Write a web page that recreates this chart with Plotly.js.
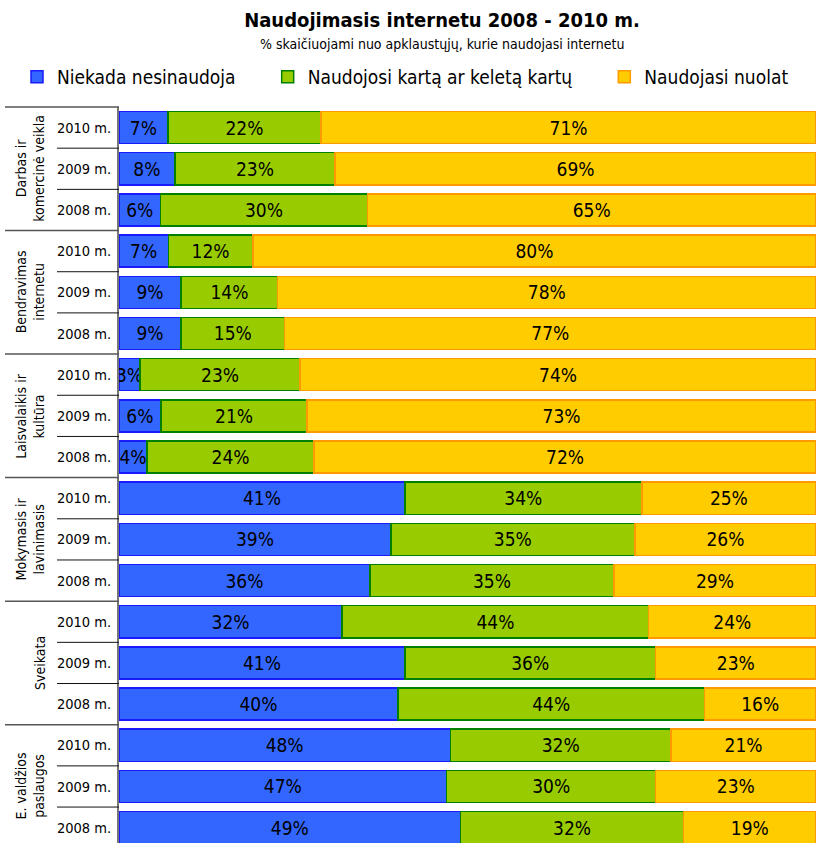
<!DOCTYPE html>
<html>
<head>
<meta charset="utf-8">
<script src="https://cdn.plot.ly/plotly-3.0.1.min.js"></script>
<style>html,body{margin:0;padding:0;background:#fff;}#chart{width:816px;height:843px;}</style>
</head>
<body>
<div id="chart"></div>
<script>
// ---- data ----
var groupLabels = ["Darbas ir<br>komercinė veikla", "Bendravimas<br>internetu", "Laisvalaikis ir<br>kultūra", "Mokymasis ir<br>lavinimasis", "Sveikata", "E. valdžios<br>paslaugos"];
var yearLabels = ["2010 m.", "2009 m.", "2008 m."];
var seriesNames = ["Niekada nesinaudoja", "Naudojosi kartą ar keletą kartų", "Naudojasi nuolat"];
var never     = [7, 8, 6,   7, 9, 9,   3, 6, 4,   41, 39, 36,   32, 41, 40,   48, 47, 49];
var sometimes = [22, 23, 30, 12, 14, 15, 23, 21, 24, 34, 35, 35,  44, 36, 44,   32, 30, 32];
var constant  = [71, 69, 65, 80, 78, 77, 74, 73, 72, 25, 26, 29,  24, 23, 16,   21, 23, 19];

// ---- build ----
var FONT = "'DejaVu Sans Condensed', 'DejaVu Sans', sans-serif";
var W = 816, H = 843, ML = 119, MT = 107;
var plotW = W - ML, plotH = H - MT;
var rowPx = 41.18;
var yMin = -0.5, yMax = -0.5 + plotH / rowPx;

var rows = [], tickText = [];
groupLabels.forEach(function (g, gi) {
  yearLabels.forEach(function (yl, yi) {
    rows.push(gi * yearLabels.length + yi);
    tickText.push(yl);
  });
});

var fills = ["#3366FF", "#99CC00", "#FFCC00"];
var lines = ["#1a1aff", "#008000", "#FF9900"];
var values = [never, sometimes, constant];

function pad(name, n) { var s = name; for (var i = 0; i < n; i++) s += "\u00a0"; return s; }
var padN = [5, 5, 0];

var traces = values.map(function (v, i) {
  return {
    type: "bar",
    orientation: "h",
    name: pad(seriesNames[i], padN[i]),
    x: v,
    y: rows,
    marker: { color: fills[i], line: { color: lines[i], width: 1.5 } },
    text: v.map(function (n) { return n + "%"; }),
    texttemplate: "%{text}",
    textposition: "inside",
    insidetextanchor: "middle",
    textangle: 0,
    constraintext: "none",
    insidetextfont: { family: FONT, size: 19, color: "#000" },
    hoverinfo: "text+name"
  };
});

function px2paperX(px) { return (px - ML) / plotW; }
function py2paperY(py) { return (H - py) / plotH; }
function row2paperY(r) { return (yMax - r) / (yMax - yMin); }

var shapes = [];
var annotations = [];
var nY = yearLabels.length;
groupLabels.forEach(function (g, gi) {
  var top = gi * nY - 0.5;
  shapes.push({ type: "line", xref: "paper", yref: "paper",
    x0: px2paperX(5), x1: px2paperX(119), y0: row2paperY(top), y1: row2paperY(top),
    line: { color: "#555", width: 1.5 } });
  for (var k = 1; k < nY; k++) {
    var b = top + k;
    shapes.push({ type: "line", xref: "paper", yref: "paper",
      x0: px2paperX(57), x1: px2paperX(119), y0: row2paperY(b), y1: row2paperY(b),
      line: { color: "#111", width: 1 } });
  }
  var twoLine = g.indexOf("<br>") >= 0;
  annotations.push({
    xref: "paper", yref: "y", x: px2paperX(twoLine ? 30 : 40), y: gi * nY + (nY - 1) / 2,
    text: g, textangle: -90, showarrow: false, align: "center",
    xanchor: "center", yanchor: "middle",
    font: { family: FONT, size: 14, color: "#000" }
  });
});

annotations.push({
  xref: "paper", yref: "paper", x: px2paperX(442), y: py2paperY(44),
  xanchor: "center", yanchor: "middle", showarrow: false,
  text: "% skaičiuojami nuo apklaustųjų, kurie naudojasi internetu",
  font: { family: FONT, size: 14, color: "#000" }
});

var layout = {
  width: W, height: H,
  margin: { l: ML, r: 0, t: MT, b: 0, pad: 0 },
  paper_bgcolor: "#fff", plot_bgcolor: "#fff",
  barmode: "stack",
  barnorm: "percent",
  bargap: 0.22,
  font: { family: FONT, color: "#000" },
  title: {
    text: "<b>Naudojimasis internetu 2008 - 2010 m.</b>",
    font: { family: FONT, size: 20, color: "#000" },
    xref: "paper", x: px2paperX(442), xanchor: "center",
    yref: "container", y: 1 - 20 / H, yanchor: "middle"
  },
  showlegend: true,
  legend: {
    orientation: "h", x: px2paperX(17), xanchor: "left",
    y: py2paperY(77), yanchor: "middle",
    font: { family: FONT, size: 19, color: "#000" },
    bgcolor: "rgba(0,0,0,0)", traceorder: "normal"
  },
  xaxis: { range: [0, 100], visible: false, fixedrange: true },
  yaxis: {
    range: [yMax, yMin], tickmode: "array", tickvals: rows, ticktext: tickText,
    showgrid: false, zeroline: false, showline: true, linecolor: "#777", linewidth: 2,
    ticks: "", ticklabelstandoff: 3,
    tickfont: { family: FONT, size: 14.5, color: "#000" }, fixedrange: true
  },
  shapes: shapes,
  annotations: annotations
};

Plotly.newPlot("chart", traces, layout, { displayModeBar: false, staticPlot: true });
</script>
</body>
</html>
